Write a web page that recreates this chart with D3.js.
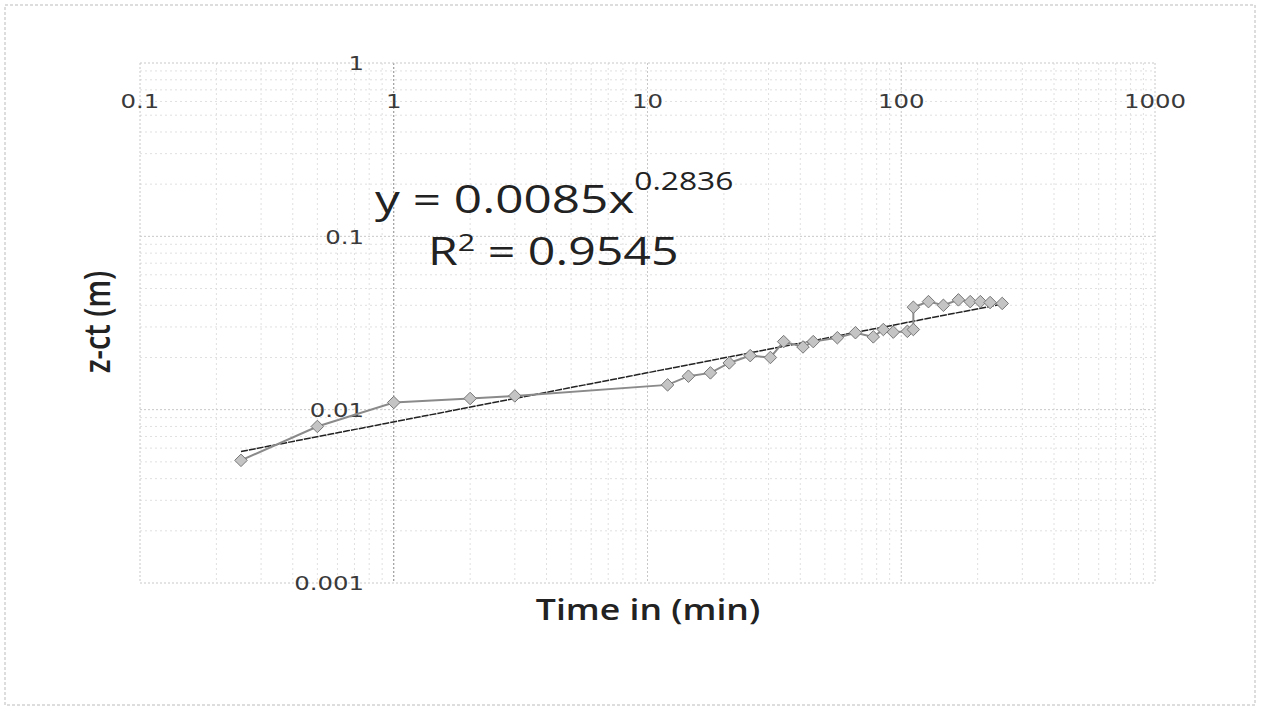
<!DOCTYPE html>
<html>
<head>
<meta charset="utf-8">
<script src="https://cdn.jsdelivr.net/npm/d3@7"></script>
<style>
  body { margin: 0; background: #fff; }
  svg { display: block; }
</style>
</head>
<body>
<svg id="chart"></svg>
<script>
// measured points (time in min, z-ct in m)
var times = [0.25, 0.5, 1, 2, 3, 12, 14.5, 17.7, 21, 25.4, 30.5, 34.4, 41, 45, 56, 66, 77.6, 85, 93, 105.7, 111.6,
             111.6, 128, 146.6, 168, 187, 205, 224, 250];
var zct = [0.0051, 0.008, 0.011, 0.0116, 0.012, 0.0139, 0.0156, 0.0163, 0.0186, 0.0205, 0.020, 0.0247, 0.023, 0.0247,
           0.026, 0.0278, 0.0263, 0.029, 0.028, 0.0283, 0.029,
           0.039, 0.042, 0.040, 0.043, 0.042, 0.042, 0.0415, 0.041];
var xTicks = [0.1, 1, 10, 100, 1000];
var yTicks = [1, 0.1, 0.01, 0.001];
// power trendline shown on the chart
var trendA = 0.0085, trendB = 0.2836;

var svgWidth = 1261, svgHeight = 711;
var stretch = 1.27; // the scanned picture is wider than the font

var svg = d3.select("#chart")
	.attr("width", svgWidth)
	.attr("height", svgHeight);

var x = d3.scaleLog().domain([0.1, 1000]).range([140, 1155]);
var y = d3.scaleLog().domain([0.001, 1]).range([583, 63]);

// outer chart frame
svg.append("rect")
	.attr("x", 5).attr("y", 5)
	.attr("width", 1250).attr("height", 700)
	.attr("fill", "none")
	.attr("stroke", "#bbb")
	.attr("stroke-dasharray", "3,2");

// minor gridlines
var minorX = [], minorY = [];
for (var d = 0.1; d < 1000; d *= 10) {
	for (var k = 2; k <= 9; k++) minorX.push(d * k);
}
for (var d2 = 0.001; d2 < 1; d2 *= 10) {
	for (var k2 = 2; k2 <= 9; k2++) minorY.push(d2 * k2);
}

var grid = svg.append("g");
grid.selectAll(".mx").data(minorX).enter().append("line")
	.attr("x1", function(d) { return x(d) }).attr("x2", function(d) { return x(d) })
	.attr("y1", y(1)).attr("y2", y(0.001))
	.attr("stroke", "#e0e0e0").attr("stroke-dasharray", "2,3");
grid.selectAll(".my").data(minorY).enter().append("line")
	.attr("y1", function(d) { return y(d) }).attr("y2", function(d) { return y(d) })
	.attr("x1", x(0.1)).attr("x2", x(1000))
	.attr("stroke", "#e0e0e0").attr("stroke-dasharray", "2,3");

// major gridlines
grid.selectAll(".Mx").data(xTicks).enter().append("line")
	.attr("x1", function(d) { return x(d) }).attr("x2", function(d) { return x(d) })
	.attr("y1", y(1)).attr("y2", y(0.001))
	.attr("stroke", function(d) { return d == 1 ? "#888" : "#c8c8c8" })
	.attr("stroke-dasharray", "2,2");
grid.selectAll(".My").data(yTicks).enter().append("line")
	.attr("y1", function(d) { return y(d) }).attr("y2", function(d) { return y(d) })
	.attr("x1", x(0.1)).attr("x2", x(1000))
	.attr("stroke", "#c8c8c8")
	.attr("stroke-dasharray", "2,2");

// tick labels
svg.selectAll(".xl").data(xTicks).enter().append("text")
	.attr("transform", function(d) { return "translate(" + x(d) + ",108) scale(1.22,1)" })
	.attr("text-anchor", "middle")
	.attr("font-family", "DejaVu Sans, sans-serif")
	.attr("font-size", 20)
	.attr("fill", "#3a3a3a")
	.text(function(d) { return d });

svg.selectAll(".yl").data(yTicks).enter().append("text")
	.attr("transform", function(d) { return "translate(364," + y(d) + ") scale(1.22,1)" })
	.attr("dy", "0.36em")
	.attr("text-anchor", "end")
	.attr("font-family", "DejaVu Sans, sans-serif")
	.attr("font-size", 20)
	.attr("fill", "#3a3a3a")
	.text(function(d) { return d });

// trendline
var trendX = d3.range(0, 101).map(function(i) {
	return Math.pow(10, Math.log10(times[0]) + i / 100 * (Math.log10(times[times.length - 1]) - Math.log10(times[0])));
});
var trendLine = d3.line()
	.x(function(d) { return x(d) })
	.y(function(d) { return y(trendA * Math.pow(d, trendB)) });
svg.append("path")
	.datum(trendX)
	.attr("fill", "none")
	.attr("stroke", "#222")
	.attr("stroke-width", 1.5)
	.attr("stroke-dasharray", "7,1")
	.attr("d", trendLine);

// data series
var pts = times.map(function(t, i) { return { t: t, z: zct[i] } });
var line = d3.line()
	.x(function(d) { return x(d.t) })
	.y(function(d) { return y(d.z) });
svg.append("path")
	.datum(pts)
	.attr("fill", "none")
	.attr("stroke", "#8a8a8a")
	.attr("stroke-width", 2)
	.attr("d", line);

svg.selectAll(".pt").data(pts).enter().append("path")
	.attr("transform", function(d) { return "translate(" + x(d.t) + "," + y(d.z) + ")" })
	.attr("d", d3.symbol().type(d3.symbolDiamond2).size(100))
	.attr("fill", "#c4c4c4")
	.attr("stroke", "#777")
	.attr("stroke-width", 1);

// equation text
var eq = svg.append("text")
	.attr("transform", "translate(375,213) scale(" + stretch + ",1)")
	.attr("font-family", "Open Sans, sans-serif")
	.attr("font-size", 39)
	.attr("fill", "#222");
eq.append("tspan").text("y = 0.0085x");
eq.append("tspan").attr("font-size", 25).attr("dy", -23).text("0.2836");

var r2 = svg.append("text")
	.attr("transform", "translate(428,265) scale(" + stretch + ",1)")
	.attr("font-family", "Open Sans, sans-serif")
	.attr("font-size", 38)
	.attr("fill", "#222");
r2.append("tspan").text("R");
r2.append("tspan").attr("font-size", 24).attr("dy", -14).text("2");
r2.append("tspan").attr("dy", 14).text(" = 0.9545");

// axis titles
svg.append("text")
	.attr("transform", "translate(648,620) scale(" + stretch + ",1)")
	.attr("text-anchor", "middle")
	.attr("font-family", "Open Sans, sans-serif")
	.attr("font-weight", 600)
	.attr("font-size", 28)
	.attr("fill", "#222")
	.text("Time in (min)");

svg.append("text")
	.attr("transform", "translate(110,322) scale(" + stretch + ",1) rotate(-90)")
	.attr("text-anchor", "middle")
	.attr("font-family", "Open Sans, sans-serif")
	.attr("font-weight", 600)
	.attr("font-size", 29)
	.attr("fill", "#222")
	.text("z-ct (m)");
</script>
</body>
</html>
